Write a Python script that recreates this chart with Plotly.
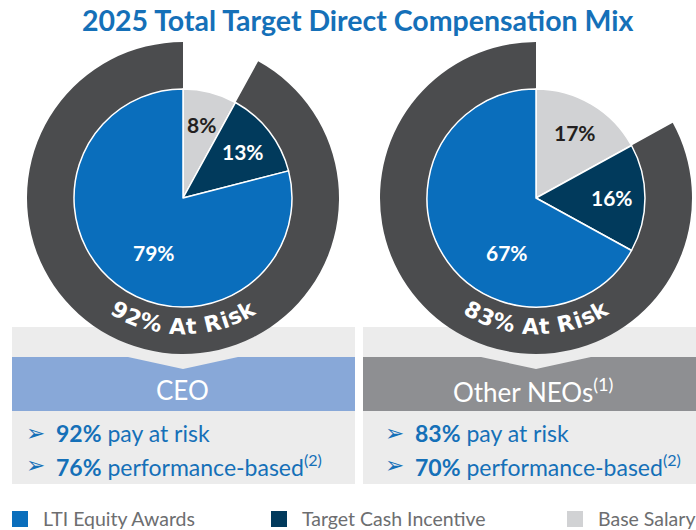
import math
import plotly.graph_objects as go

W, H = 696, 530

# ---------------- data ----------------
groups = ["CEO", "Other NEOs"]
group_titles = ["CEO", "Other NEOs<sup>(1)</sup>"]
components = ["Base Salary", "Target Cash Incentive", "LTI Equity Awards"]
ceo_mix = [8, 13, 79]
neo_mix = [17, 16, 67]
pay_at_risk = [92, 83]
performance_based = [76, 70]
legend_order = ["LTI Equity Awards", "Target Cash Incentive", "Base Salary"]
title = "2025 Total Target Direct Compensation Mix"

# ---------------- style ----------------
colors = {"Base Salary": "#d1d2d4", "Target Cash Incentive": "#013a5c",
          "LTI Equity Awards": "#0a6ebc"}
label_colors = {"Base Salary": "#231f20", "Target Cash Incentive": "white",
                "LTI Equity Awards": "white"}
RING = "#4b4c4e"
BLUE_TXT = "#1570b8"
PANEL_BG = "#ececec"
BAND = ["#88a8d8", "#8e8f92"]
centers = [(183, 198), (536, 198)]
R_PIE, R_RING, R_TEXT = 109, 156, 129
panels = [(12, 355), (363, 696)]
legend_x = [12, 271, 567]
FONT = "Lato"


def px(x):
    return x / W


def py(y):
    return 1 - y / H


def dom(cx, cy, r):
    return dict(x=[(cx - r) / W, (cx + r) / W], y=[1 - (cy + r) / H, 1 - (cy - r) / H])


def note(x, y, text, font, xanchor="center", yanchor="middle", **kw):
    d = dict(x=px(x), y=py(y), xref="paper", yref="paper", showarrow=False,
             xanchor=xanchor, yanchor=yanchor, text=text, font=font)
    d.update(kw)
    return d


fig = go.Figure()
shapes, ann = [], []
mixes = [ceo_mix, neo_mix]

for gi, (cx, cy) in enumerate(centers):
    mix = mixes[gi]
    risk = pay_at_risk[gi]
    # outer "at risk" ring
    fig.add_trace(go.Pie(
        values=[100 - risk, risk], labels=[f"{groups[gi]} fixed", f"{groups[gi]} at risk"],
        marker=dict(colors=["rgba(0,0,0,0)", RING], line=dict(width=0)),
        hole=R_PIE / R_RING, sort=False, direction="clockwise", rotation=0,
        textinfo="none", hoverinfo="skip", showlegend=False,
        domain=dom(cx, cy, R_RING)))
    # inner pie
    fig.add_trace(go.Pie(
        values=mix, labels=components,
        marker=dict(colors=[colors[c] for c in components], line=dict(color="white", width=1.5)),
        sort=False, direction="clockwise", rotation=0,
        textinfo="none", hoverinfo="skip", showlegend=False,
        domain=dom(cx, cy, R_PIE)))
    # slice labels
    cum = 0
    for comp, v in zip(components, mix):
        mid = (cum + v / 2) / 100 * 360
        cum += v
        if v >= 50:
            ang, r = 208, 0.57 * R_PIE
        else:
            ang, r = mid, 0.70 * R_PIE
        x = cx + r * math.sin(math.radians(ang))
        y = cy - r * math.cos(math.radians(ang))
        ann.append(note(x, y, f"<b>{v}%</b>",
                        dict(family=FONT, size=21, color=label_colors[comp])))
    # curved "xx% At Risk" text
    txt = f"{risk}% At Risk"
    wt = {"0": .696, "1": .696, "2": .696, "3": .696, "4": .696, "5": .696, "6": .696,
          "7": .696, "8": .696, "9": .696, "%": 1.002, " ": .348, "A": .774, "t": .478,
          "R": .770, "i": .343, "s": .595, "k": .665}
    fs = 22
    widths = [wt[ch] * fs for ch in txt]
    total = sum(widths)
    s = -total / 2
    for ch, w in zip(txt, widths):
        sc = s + w / 2
        s += w
        if ch == " ":
            continue
        phi = sc / R_TEXT
        x = cx + R_TEXT * math.sin(phi)
        y = cy + R_TEXT * math.cos(phi)
        ann.append(note(x, y, f"<b>{ch}</b>",
                        dict(family="DejaVu Sans", size=fs, color="white"),
                        textangle=-math.degrees(phi)))

    # panel below
    x0, x1 = panels[gi]
    shapes.append(dict(type="rect", xref="paper", yref="paper", layer="below",
                       x0=px(x0), x1=px(x1), y0=py(484), y1=py(327),
                       fillcolor=PANEL_BG, line=dict(width=0)))
    shapes.append(dict(type="rect", xref="paper", yref="paper", layer="below",
                       x0=px(x0), x1=px(x1), y0=py(411), y1=py(357),
                       fillcolor=BAND[gi], line=dict(width=0)))
    path = (f"M {px(cx - 55)} {py(357)} L {px(cx + 55)} {py(357)} "
            f"L {px(cx)} {py(369)} Z")
    shapes.append(dict(type="path", xref="paper", yref="paper", layer="below", path=path,
                       fillcolor=PANEL_BG, line=dict(width=0)))
    ann.append(note(cx - 1 if gi == 0 else cx - 3, 390, group_titles[gi],
                    dict(family=FONT, size=26, color="white")))
    # bullets
    bx = x0 + 23 if gi == 0 else x0 + 31
    for yy, t in [(433, f"<b>{pay_at_risk[gi]}%</b> pay at risk"),
                  (465, f"<b>{performance_based[gi]}%</b> performance-based<sup>(2)</sup>")]:
        ann.append(note(bx, yy, "➢", dict(family="DejaVu Sans", size=23, color=BLUE_TXT)))
        ann.append(note(bx + 19, yy, t, dict(family=FONT, size=23, color=BLUE_TXT),
                        xanchor="left"))

# legend
for lx, comp in zip(legend_x, legend_order):
    shapes.append(dict(type="rect", xref="paper", yref="paper",
                       x0=px(lx), x1=px(lx + 16), y0=py(527), y1=py(511),
                       fillcolor=colors[comp], line=dict(width=0)))
    ann.append(note(lx + 29, 518, comp, dict(family=FONT, size=19.5, color="#6d6e70"),
                    xanchor="left"))

# title
ann.append(note(358, 20, f"<b>{title}</b>", dict(family=FONT, size=28.5, color=BLUE_TXT)))

fig.update_layout(width=W, height=H, margin=dict(l=0, r=0, t=0, b=0),
                  paper_bgcolor="white", plot_bgcolor="white",
                  shapes=shapes, annotations=ann, showlegend=False)
fig.write_html("out.html", config={"displayModeBar": False},
               post_script="document.body.style.margin='0px';document.body.style.overflow='hidden';")
